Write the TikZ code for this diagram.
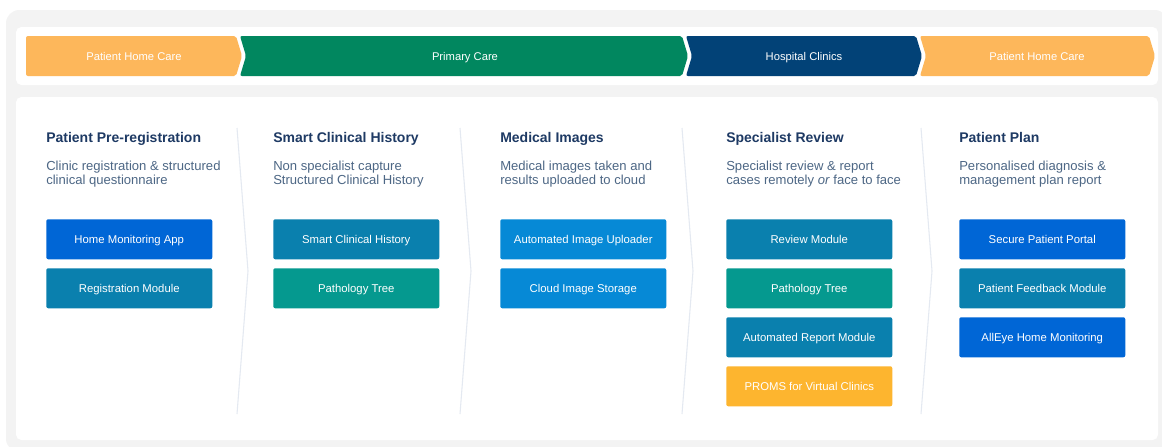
\documentclass[tikz,border=0pt]{standalone}
\usepackage{fontspec}
\setmainfont{Liberation Sans}
\definecolor{bgray}{HTML}{F3F3F3}
\definecolor{corange}{HTML}{FDB75B}
\definecolor{cgreen}{HTML}{01875F}
\definecolor{cnavy}{HTML}{024277}
\definecolor{bblue}{HTML}{0066D6}
\definecolor{bteal}{HTML}{0A80AE}
\definecolor{bgreen}{HTML}{05998F}
\definecolor{bsky}{HTML}{0689D6}
\definecolor{byellow}{HTML}{FDB52F}
\definecolor{headc}{HTML}{1E3A64}
\definecolor{subc}{HTML}{4D6785}
\definecolor{sepc}{HTML}{E4E9F1}
\begin{document}
\begin{tikzpicture}[x=0.75pt,y=-0.75pt,
  chevlabel/.style={text=white,font=\fontsize{8.4pt}{10pt}\selectfont,inner sep=0pt,
     text height=6pt,text depth=0pt},
  head/.style={anchor=base west,text=headc,font=\fontsize{10.5pt}{12pt}\selectfont\bfseries,inner sep=0pt},
  sub/.style={anchor=base west,align=left,text=subc,font=\fontsize{9.8pt}{10.5pt}\selectfont,inner sep=0pt},
  modbox/.style={minimum width=124.5pt,minimum height=30pt,rounded corners=1.5pt,text=white,
     font=\fontsize{8.5pt}{10pt}\selectfont,inner sep=0pt,anchor=north west,
     text height=6.1pt,text depth=0pt},
  sep/.style={draw=sepc,line width=0.8pt}]
\useasboundingbox (0,0) rectangle (1162,446);
\fill[white] (0,0) rectangle (1162,446);
\fill[bgray,rounded corners=10] (6,10) rectangle (1168,452);
\fill[white,rounded corners=4] (16,27) rectangle (1158,85);
\fill[white,rounded corners=4] (16,97) rectangle (1158,440);
% chevrons
\fill[corange,rounded corners=1.5] (26,36) -- (236,36) -- (242,56) -- (236,76) -- (26,76) -- cycle;
\fill[cgreen,rounded corners=1.5] (240,36) -- (682,36) -- (688,56) -- (682,76) -- (240,76) -- (246,56) -- cycle;
\fill[cnavy,rounded corners=1.5] (686,36) -- (916,36) -- (922,56) -- (916,76) -- (686,76) -- (692,56) -- cycle;
\fill[corange,rounded corners=1.5] (920,36) -- (1149,36) -- (1155,56) -- (1149,76) -- (920,76) -- (926,56) -- cycle;
\node[chevlabel] (c1) at (134,56) {Patient Home Care};
\node[chevlabel] (c2) at (465,56) {Primary Care};
\node[chevlabel] (c3) at (804,56) {Hospital Clinics};
\node[chevlabel] (c4) at (1037,56) {Patient Home Care};
% separators
\foreach \sx in {237,460,682,921}{
  \draw[sep] (\sx,128) -- (\sx+11,271) -- (\sx,414);
}
% headings
\node[head] (h1) at (46,142) {Patient Pre-registration};
\node[head] (h2) at (273,142) {Smart Clinical History};
\node[head] (h3) at (500,142) {Medical Images};
\node[head] (h4) at (726,142) {Specialist Review};
\node[head] (h5) at (959,142) {Patient Plan};
\node[sub] (s1) at (46,184) {Clinic registration \& structured\\clinical questionnaire};
\node[sub] (s2) at (273,184) {Non specialist capture\\Structured Clinical History};
\node[sub] (s3) at (500,184) {Medical images taken and\\results uploaded to cloud};
\node[sub] (s4) at (726,184) {Specialist review \& report\\cases remotely \textit{or} face to face};
\node[sub] (s5) at (959,184) {Personalised diagnosis \&\\management plan report};
% modules
\node[modbox,fill=bblue] (m11) at (46,219) {Home Monitoring App};
\node[modbox,fill=bteal] (m12) at (46,268) {Registration Module};
\node[modbox,fill=bteal] (m21) at (273,219) {Smart Clinical History};
\node[modbox,fill=bgreen] (m22) at (273,268) {Pathology Tree};
\node[modbox,fill=bsky] (m31) at (500,219) {Automated Image Uploader};
\node[modbox,fill=bsky] (m32) at (500,268) {Cloud Image Storage};
\node[modbox,fill=bteal] (m41) at (726,219) {Review Module};
\node[modbox,fill=bgreen] (m42) at (726,268) {Pathology Tree};
\node[modbox,fill=bteal] (m43) at (726,317) {Automated Report Module};
\node[modbox,fill=byellow] (m44) at (726,366) {PROMS for Virtual Clinics};
\node[modbox,fill=bblue] (m51) at (959,219) {Secure Patient Portal};
\node[modbox,fill=bteal] (m52) at (959,268) {Patient Feedback Module};
\node[modbox,fill=bblue] (m53) at (959,317) {AllEye Home Monitoring};
\end{tikzpicture}
\end{document}
